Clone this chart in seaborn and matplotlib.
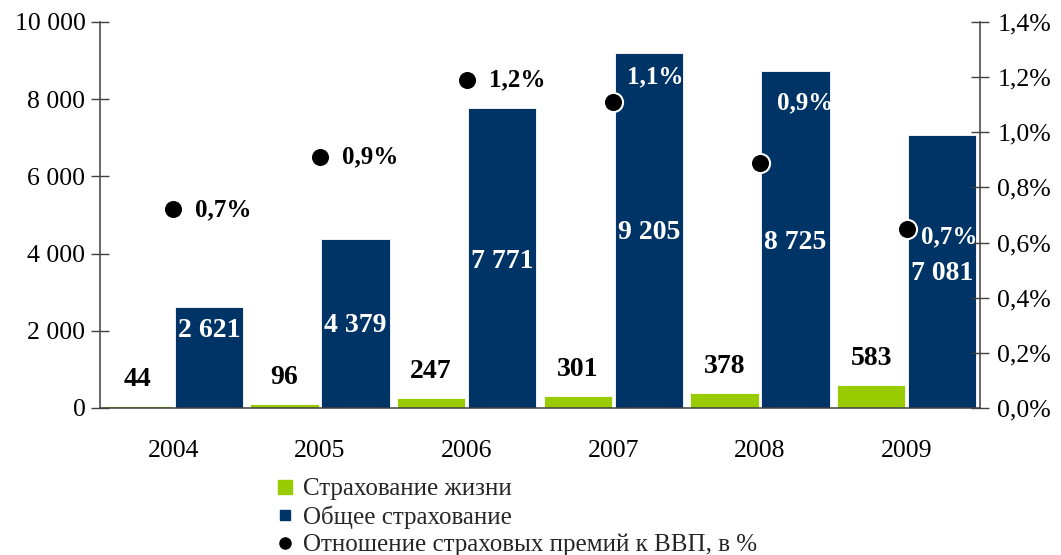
import numpy as np
import pandas as pd
import matplotlib
matplotlib.use("Agg")
import matplotlib.pyplot as plt
from matplotlib.lines import Line2D
from matplotlib.ticker import FuncFormatter, FixedLocator
import seaborn as sns

# ---------------- data ----------------
years = ["2004", "2005", "2006", "2007", "2008", "2009"]
life = [44, 96, 247, 301, 378, 583]
general = [2621, 4379, 7771, 9205, 8725, 7081]
ratio = [0.72, 0.91, 1.19, 1.11, 0.89, 0.65]
ratio_labels = ["0,7%", "0,9%", "1,2%", "1,1%", "0,9%", "0,7%"]

kind_life = "Страхование жизни"
kind_gen = "Общее страхование"
kind_ratio = "Отношение страховых премий к ВВП, в %"

# label placement (style, not data)
gen_label_y = [1995, 2150, 3808, 4534, 4275, 3497]
ratio_label_y = [0.72, 0.91, 1.19, 1.20, 1.106, 0.62]
ratio_label_dx = [0.15, 0.15, 0.15, 0.095, 0.115, 0.095]
ratio_label_col = ["black", "black", "black", "white", "white", "white"]

GREEN = "#99CC00"
NAVY = "#003366"
AXC = "#404040"

df = pd.DataFrame({
    "year": years * 2,
    "value": life + general,
    "kind": [kind_life] * len(years) + [kind_gen] * len(years),
})

sns.set_theme(style="white")
plt.rcParams["font.family"] = ["Liberation Serif", "DejaVu Serif"]

fig = plt.figure(figsize=(10.61, 5.55), dpi=100)
ax = fig.add_axes([100 / 1061, 1 - 408 / 555, 880 / 1061, 386 / 555])

sns.barplot(data=df, x="year", y="value", hue="kind",
            hue_order=[kind_life, kind_gen], palette=[GREEN, NAVY], saturation=1,
            width=0.97, gap=0.04, edgecolor="white", linewidth=0.6,
            legend=False, ax=ax)

ax.set_xlim(-0.5, len(years) - 0.5)
ax.set_ylim(0, 10000)
ax.set_xlabel("")
ax.set_ylabel("")

# value labels
for bar, v in zip(ax.containers[0], life):
    ax.text(bar.get_x() + bar.get_width() / 2, v + 700, f"{v:,}".replace(",", " "),
            ha="center", va="center", fontsize=20, fontweight="bold", color="black")
for bar, v, yy in zip(ax.containers[1], general, gen_label_y):
    ax.text(bar.get_x() + bar.get_width() / 2, yy, f"{v:,}".replace(",", " "),
            ha="center", va="center", fontsize=20, fontweight="bold", color="white")

# axis styling
ax.yaxis.set_major_locator(FixedLocator(np.arange(0, 10001, 2000)))
ax.yaxis.set_major_formatter(FuncFormatter(lambda v, p: f"{int(v):,}".replace(",", " ")))
ax.xaxis.set_major_locator(FixedLocator(np.arange(-0.5, len(years), 1.0)))
ax.xaxis.set_major_formatter(FuncFormatter(lambda v, p: ""))
ax.set_xticks(range(len(years)), minor=True)
ax.set_xticklabels(years, minor=True)
ax.tick_params(axis="x", which="major", direction="inout", length=13, width=1, color=AXC)
ax.tick_params(axis="x", which="minor", length=0, pad=23, labelsize=18.5, labelcolor="black")
ax.tick_params(axis="y", direction="inout", length=13, width=1, color=AXC,
               labelsize=18.5, labelcolor="black", pad=4)
for s in ["top", "right"]:
    ax.spines[s].set_visible(False)
for s in ["left", "bottom"]:
    ax.spines[s].set_color(AXC)
    ax.spines[s].set_linewidth(1.1)

# secondary axis: ratio to GDP
ax2 = ax.twinx()
sns.scatterplot(x=np.arange(len(years)), y=ratio, ax=ax2, s=190, color="black",
                edgecolor="white", linewidth=1.5, zorder=5, legend=False)
ax2.set_ylim(0, 1.4)
ax2.set_xlim(-0.5, len(years) - 0.5)
for i, (lab, yy, dx, c) in enumerate(zip(ratio_labels, ratio_label_y, ratio_label_dx, ratio_label_col)):
    ax2.text(i + dx, yy, lab, ha="left", va="center", fontsize=18,
             fontweight="bold", color=c, zorder=6)
ax2.yaxis.set_major_locator(FixedLocator(np.arange(0, 1.41, 0.2)))
ax2.yaxis.set_major_formatter(FuncFormatter(lambda v, p: f"{v:.1f}%".replace(".", ",")))
ax2.tick_params(axis="y", direction="inout", length=13, width=1, color=AXC,
                labelsize=18.5, labelcolor="black", pad=6)
for s in ["top", "left", "bottom"]:
    ax2.spines[s].set_visible(False)
ax2.spines["right"].set_color(AXC)
ax2.spines["right"].set_linewidth(1.1)
ax2.grid(False)
ax.grid(False)

# legend
handles = [
    Line2D([], [], marker="s", linestyle="none", markersize=10, color=GREEN),
    Line2D([], [], marker="s", linestyle="none", markersize=7, color=NAVY),
    Line2D([], [], marker="o", linestyle="none", markersize=8, color="black"),
]
fig.legend(handles, [kind_life, kind_gen, kind_ratio], loc="upper left",
           bbox_to_anchor=(277 / 1061, 1 - 478 / 555), frameon=False,
           fontsize=18, handlelength=0.6, handletextpad=0.45, labelspacing=0.2,
           borderaxespad=0, borderpad=0)

fig.savefig("out.png", dpi=100, facecolor="white")
